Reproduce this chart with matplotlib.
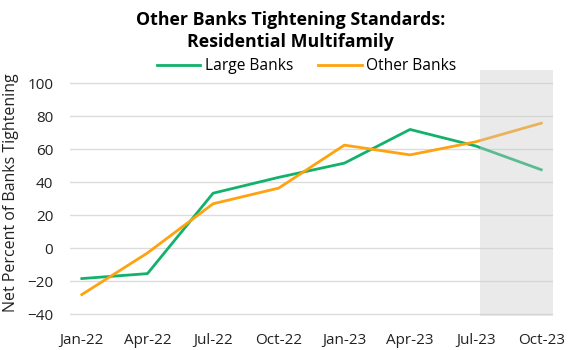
import matplotlib.pyplot as plt

# quarterly survey dates
quarters = ['Jan-22', 'Apr-22', 'Jul-22', 'Oct-22', 'Jan-23', 'Apr-23', 'Jul-23', 'Oct-23']
large_banks = [-18.3, -15.3, 33.4, 43.0, 51.6, 72.0, 62.0, 47.6]
other_banks = [-28.0, -2.8, 27.0, 36.5, 62.5, 56.6, 64.5, 75.8]
y_ticks = [-40, -20, 0, 20, 40, 60, 80, 100]

plt.rcParams['font.family'] = ['Open Sans', 'DejaVu Sans']

fig = plt.figure(figsize=(5.81, 3.5), dpi=100)
ax = fig.add_axes([0.1205, 0.097, 0.8315, 0.703])

x = range(len(quarters))
ax.plot(x, large_banks, color='#13b26b', lw=2, label='Large Banks', zorder=3)
ax.plot(x, other_banks, color='#ffa20f', lw=2, label='Other Banks', zorder=3)

# shaded (projected) period on top of the lines, so they look faded
ax.axvspan(6.06, 7.2, color='#cccccc', alpha=0.4, lw=0, zorder=4)

ax.set_xlim(-0.18, 7.18)
ax.set_ylim(-41, 108)
ax.set_yticks(y_ticks)
ax.set_xticks(list(x))
ax.set_xticklabels(quarters)
ax.tick_params(length=0, labelsize=11, colors='#222222')
ax.tick_params(axis='x', pad=12)
ax.tick_params(axis='y', pad=12)
ax.grid(axis='y', color='#dcdcdc', lw=1)
ax.set_axisbelow(True)
for s in ax.spines.values():
    s.set_visible(False)

ax.set_ylabel('Net Percent of Banks Tightening', fontsize=11.5, color='#222222', labelpad=6)

fig.text(0.5, 0.968, 'Other Banks Tightening Standards:\nResidential Multifamily',
         ha='center', va='top', fontsize=12.8, fontweight='bold', linespacing=1.3)

ax.legend(loc='center', bbox_to_anchor=(0.49, 1.015), ncol=2, frameon=False,
          fontsize=11.2, handlelength=2.8, handletextpad=0.3, columnspacing=1.6,
          borderaxespad=0)

fig.savefig('out.png', dpi=100)
